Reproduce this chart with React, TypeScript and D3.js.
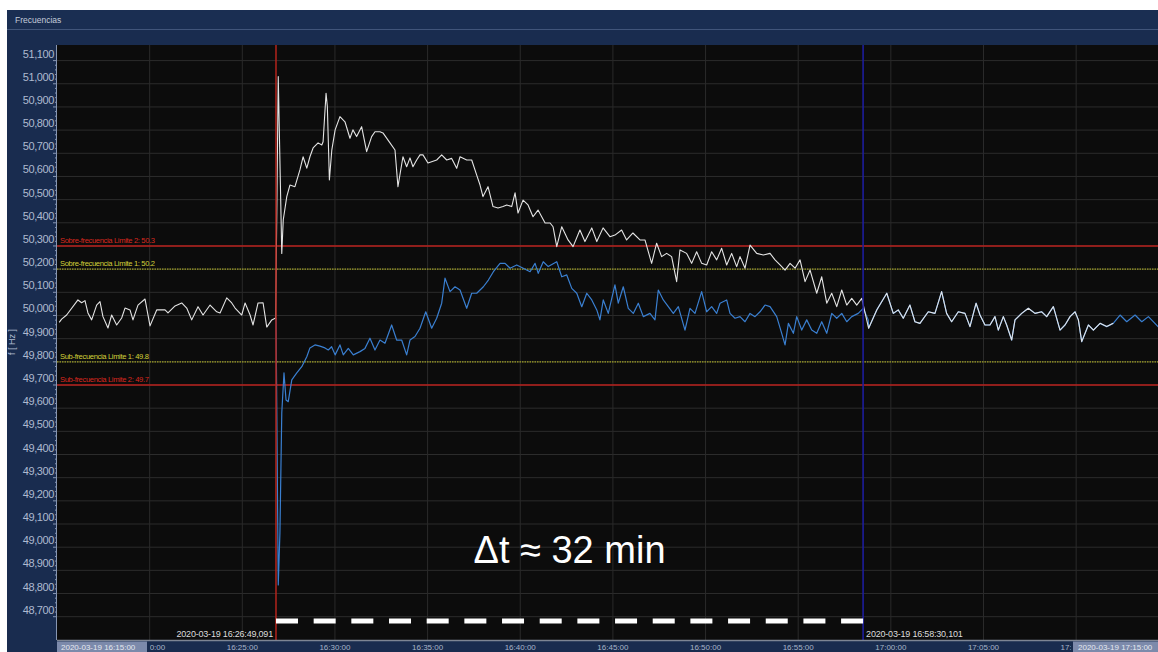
import React from "react";
import * as d3 from "d3";

const W = 1158;
const H = 652;

// Time origin of the view: 2020-03-19 16:15:00
const T0 = new Date(2020, 2, 19, 16, 15, 0);
const at = (min: number) => new Date(T0.getTime() + min * 60000);

// Frequency recorded at the first measuring point, [minutes after 16:15:00, Hz]
const seriesWhite: [number, number][] = [
  [0.12, 49.97], [0.25, 49.984], [0.52, 50.002], [1.13, 50.067], [1.33, 50.055], [1.51, 50.064],
  [1.67, 50.011], [1.87, 49.981], [2.14, 50.045], [2.32, 50.06], [2.48, 49.995], [2.75, 49.946],
  [2.95, 50.002], [3.22, 49.959], [3.49, 49.989], [3.67, 50.032], [3.94, 50.024], [4.1, 49.981],
  [4.37, 50.045], [4.75, 50.071], [5.02, 49.955], [5.38, 50.024], [5.83, 50.024], [5.99, 50.011],
  [6.37, 50.041], [6.73, 50.054], [7.0, 50.032], [7.27, 49.981], [7.61, 50.038], [7.88, 50.002],
  [8.26, 50.045], [8.62, 50.016], [8.8, 50.011], [9.16, 50.076], [9.43, 50.054], [9.61, 50.032],
  [9.97, 50.002], [10.15, 50.054], [10.42, 50.002], [10.58, 49.959], [10.85, 50.054], [11.12, 50.055],
  [11.32, 49.95], [11.59, 49.981], [11.8, 49.989],
  [11.94, 51.031], [12.13, 50.268], [12.21, 50.412], [12.4, 50.513], [12.57, 50.563], [12.84, 50.556],
  [13.11, 50.628], [13.28, 50.685], [13.48, 50.636], [13.65, 50.685], [13.82, 50.723], [14.09, 50.745],
  [14.29, 50.736], [14.36, 50.75], [14.52, 50.959], [14.59, 50.901], [14.7, 50.585], [14.83, 50.714],
  [15.01, 50.801], [15.27, 50.858], [15.54, 50.836], [15.81, 50.765], [15.97, 50.801], [16.17, 50.772],
  [16.44, 50.815], [16.71, 50.707], [16.98, 50.772], [17.16, 50.793], [17.43, 50.793], [17.59, 50.788],
  [17.97, 50.745], [18.24, 50.714], [18.4, 50.556], [18.67, 50.685], [18.87, 50.642], [19.05, 50.68],
  [19.21, 50.642], [19.41, 50.671], [19.59, 50.693], [19.75, 50.693], [20.02, 50.658], [20.49, 50.671],
  [20.76, 50.693], [21.03, 50.671], [21.3, 50.678], [21.57, 50.635], [21.75, 50.685], [22.11, 50.671],
  [22.38, 50.671], [22.65, 50.606], [22.83, 50.563], [22.99, 50.513], [23.26, 50.556], [23.53, 50.47],
  [23.8, 50.464], [24.07, 50.47], [24.27, 50.477], [24.54, 50.47], [24.72, 50.529], [24.88, 50.442],
  [25.15, 50.498], [25.42, 50.477], [25.69, 50.426], [25.96, 50.455], [26.34, 50.399], [26.61, 50.399],
  [26.77, 50.383], [26.97, 50.297], [27.24, 50.383], [27.58, 50.326], [27.85, 50.297], [28.22, 50.369],
  [28.49, 50.319], [28.86, 50.378], [29.13, 50.319], [29.47, 50.378], [29.84, 50.34], [30.11, 50.347],
  [30.47, 50.369], [30.74, 50.326], [31.08, 50.356], [31.46, 50.326], [31.73, 50.326], [32.09, 50.225],
  [32.36, 50.312], [32.63, 50.254], [32.9, 50.268], [33.17, 50.254], [33.44, 50.146], [33.62, 50.283],
  [33.98, 50.268], [34.25, 50.225], [34.52, 50.275], [34.79, 50.225], [35.06, 50.218], [35.33, 50.275],
  [35.6, 50.24], [35.87, 50.29], [36.14, 50.218], [36.41, 50.268], [36.68, 50.211], [36.86, 50.254],
  [37.13, 50.204], [37.4, 50.304], [37.76, 50.268], [38.12, 50.261], [38.48, 50.268], [38.75, 50.24],
  [39.02, 50.218], [39.29, 50.196], [39.56, 50.225], [39.83, 50.204], [40.1, 50.24], [40.37, 50.146],
  [40.64, 50.196], [41.0, 50.096], [41.27, 50.167], [41.54, 50.053], [41.81, 50.096], [42.08, 50.038],
  [42.35, 50.11], [42.62, 50.045], [42.89, 50.074], [43.16, 50.045], [43.43, 50.074], [43.8, 49.945],
  [44.24, 50.024], [44.78, 50.096], [45.13, 50.009], [45.4, 50.024], [45.67, 49.988], [46.03, 50.045],
  [46.3, 49.973], [46.57, 49.966], [47.02, 50.016], [47.38, 50.009], [47.74, 50.103], [48.01, 50.009],
  [48.28, 49.973], [48.64, 50.016], [49.0, 50.009], [49.27, 49.952], [49.6, 50.053], [49.81, 50.002],
  [50.08, 49.959], [50.35, 49.959], [50.62, 49.995], [50.8, 49.937], [51.07, 49.995], [51.25, 49.959],
  [51.52, 49.894], [51.7, 49.981], [52.06, 50.009], [52.42, 50.031], [52.78, 50.009], [53.14, 50.016],
  [53.41, 49.995], [53.77, 50.038], [54.13, 49.937], [54.4, 49.959], [54.67, 49.995], [54.94, 50.016],
  [55.12, 49.981], [55.3, 49.887], [55.66, 49.959], [55.93, 49.937], [56.29, 49.966], [56.65, 49.952],
  [57.0, 49.966],
];

// Frequency recorded at the second measuring point until it resynchronises
const seriesBlueSplit: [number, number][] = [
  [11.82, 49.989], [11.94, 48.837], [12.03, 49.061], [12.13, 49.579], [12.25, 49.752], [12.36, 49.635],
  [12.48, 49.628], [12.67, 49.722], [12.94, 49.752], [13.21, 49.779], [13.48, 49.822], [13.65, 49.86],
  [13.92, 49.873], [14.19, 49.868], [14.46, 49.86], [14.64, 49.851], [14.82, 49.865], [15.01, 49.83],
  [15.27, 49.873], [15.45, 49.83], [15.72, 49.858], [15.99, 49.83], [16.35, 49.844], [16.62, 49.858],
  [16.89, 49.902], [17.16, 49.851], [17.43, 49.894], [17.7, 49.88], [18.06, 49.959], [18.33, 49.894],
  [18.6, 49.894], [18.87, 49.83], [19.05, 49.894], [19.32, 49.909], [19.59, 49.945], [19.9, 50.016],
  [20.22, 49.945], [20.49, 49.988], [20.76, 50.053], [20.94, 50.161], [21.21, 50.103], [21.48, 50.124],
  [21.75, 50.11], [22.11, 50.031], [22.38, 50.096], [22.65, 50.096], [23.01, 50.124], [23.28, 50.153],
  [23.55, 50.189], [23.91, 50.225], [24.18, 50.225], [24.45, 50.204], [24.81, 50.218], [25.16, 50.204],
  [25.53, 50.189], [25.8, 50.225], [25.97, 50.182], [26.24, 50.232], [26.51, 50.211], [26.97, 50.232],
  [27.24, 50.167], [27.51, 50.175], [27.78, 50.117], [28.05, 50.096], [28.32, 50.038], [28.59, 50.096],
  [28.86, 50.067], [29.13, 50.024], [29.3, 49.981], [29.48, 50.067], [29.75, 50.009], [30.11, 50.132],
  [30.29, 50.053], [30.56, 50.124], [30.83, 50.031], [31.1, 50.009], [31.37, 50.053], [31.64, 49.995],
  [32.0, 50.009], [32.27, 49.981], [32.45, 50.11], [32.72, 50.067], [32.99, 50.038], [33.26, 50.009],
  [33.53, 50.038], [33.89, 49.937], [34.16, 50.031], [34.43, 50.009], [34.79, 50.103], [35.06, 50.016],
  [35.33, 50.038], [35.6, 50.009], [35.78, 50.053], [36.14, 50.067], [36.32, 50.009], [36.59, 49.988],
  [36.86, 49.995], [37.13, 49.973], [37.4, 50.009], [37.67, 49.995], [37.94, 50.016], [38.21, 50.045],
  [38.48, 50.038], [38.84, 49.995], [39.11, 49.923], [39.29, 49.873], [39.47, 49.966], [39.74, 49.923],
  [39.92, 49.995], [40.19, 49.937], [40.46, 49.981], [40.73, 49.937], [41.0, 49.923], [41.27, 49.973],
  [41.54, 49.923], [41.81, 50.009], [42.08, 49.988], [42.35, 50.009], [42.62, 49.973], [42.89, 49.995],
  [43.24, 50.009], [43.51, 50.031], [43.78, 49.981],
];

// Readings of the second point after the first one stops reporting
const seriesBlueEnd: [number, number][] = [
  [57.37, 50.002], [57.73, 49.973], [58.18, 50.002], [58.54, 49.973], [58.9, 49.995], [59.42, 49.952],
  [59.8, 49.975],
];

// After resynchronisation both points read the same value
const seriesBlue: [number, number][] = [
  ...seriesBlueSplit,
  ...seriesWhite.filter((d) => d[0] >= 43.8),
  ...seriesBlueEnd,
];

const yTicks = [
  48.7, 48.8, 48.9, 49.0, 49.1, 49.2, 49.3, 49.4, 49.5, 49.6, 49.7, 49.8, 49.9,
  50.0, 50.1, 50.2, 50.3, 50.4, 50.5, 50.6, 50.7, 50.8, 50.9, 51.0, 51.1,
];
const xTickMinutes = [5, 10, 15, 20, 25, 30, 35, 40, 45, 50, 55];
const xTickLabels = [
  "16:20:00", "16:25:00", "16:30:00", "16:35:00", "16:40:00", "16:45:00",
  "16:50:00", "16:55:00", "17:00:00", "17:05:00", "17:10:00",
];

const limitValues = [50.3, 50.2, 49.8, 49.7];
const limitLevels = [2, 1, 1, 2];
const limitLabels = [
  "Sobre-frecuencia Limite 2: 50.3",
  "Sobre-frecuencia Limite 1: 50.2",
  "Sub-frecuencia Limite 1: 49.8",
  "Sub-frecuencia Limite 2: 49.7",
];

// Cursor times (minutes after 16:15:00) and their labels
const cursorStart = 11 + 49.091 / 60;
const cursorEnd = 43 + 30.101 / 60;
const cursorStartLabel = "2020-03-19 16:26:49,091";
const cursorEndLabel = "2020-03-19 16:58:30,101";
const rangeStartLabel = "2020-03-19 16:15:00";
const rangeEndLabel = "2020-03-19 17:15:00";
const deltaLabel = "Δt ≈ 32 min";
const title = "Frecuencias";
const yAxisTitle = "f [ Hz ]";

export default function App() {
  const plotLeft = 57;
  const plotTop = 45;
  const plotBottom = 640;
  const x = d3
    .scaleTime()
    .domain([T0, at(60)])
    .range([plotLeft, plotLeft + 60 * 18.53]);
  const y = d3.scaleLinear().domain([48.7, 51.1]).range([616.7, 60.6]);

  const line = d3
    .line<[number, number]>()
    .x((d) => x(at(d[0])))
    .y((d) => y(d[1]));

  const locale = d3.formatLocale({
    decimal: ",",
    thousands: ".",
    grouping: [3],
    currency: ["", ""],
  });
  const fmt = locale.format(".3f");

  const minorTicks = d3.range(0, 121).map((i) => 48.7 + i * 0.02);

  const xs = x(at(cursorStart));
  const xe = x(at(cursorEnd));
  const dashY = 621;
  const nDash = 16;
  const dashLen = 22;
  const gap = (xe - xs - nDash * dashLen) / (nDash - 1);

  const navy = "#192c4f";
  const axisText = "#aebad0";
  const boxLeftEnd = plotLeft + 90;
  const boxRightStart = 1073;

  return (
    <svg
      width={W}
      height={H}
      style={{ position: "absolute", left: 0, top: 0, display: "block" }}
      fontFamily="'Liberation Sans', Arial, sans-serif"
    >
      <defs>
        <clipPath id="plotClip">
          <rect x={plotLeft} y={plotTop} width={W - plotLeft} height={plotBottom - plotTop} />
        </clipPath>
        <clipPath id="timeTickClip">
          <rect x={boxLeftEnd + 3} y={plotBottom} width={boxRightStart - boxLeftEnd - 5} height={H - plotBottom} />
        </clipPath>
      </defs>
      <rect x={0} y={0} width={W} height={H} fill="#ffffff" />
      {/* header */}
      <rect x={7} y={10} width={W - 7} height={H - 10} fill={navy} />
      <rect x={7} y={10} width={W - 7} height={19} fill="#1a2e52" />
      <line x1={7} x2={W} y1={29.5} y2={29.5} stroke="#41557a" strokeWidth={1} />
      <text x={15} y={23} fontSize={8.5} fill="#c4ccda">
        {title}
      </text>

      {/* plot area */}
      <rect x={plotLeft} y={plotTop} width={W - plotLeft} height={plotBottom - plotTop} fill="#0c0c0c" />
      <g>
        {yTicks.map((v) => (
          <line key={"gy" + v} x1={plotLeft} x2={W} y1={y(v)} y2={y(v)} stroke="#2c2c2c" strokeWidth={1} />
        ))}
        {xTickMinutes.map((m) => (
          <line key={"gx" + m} x1={x(at(m))} x2={x(at(m))} y1={plotTop} y2={plotBottom} stroke="#2a2a2a" strokeWidth={1} />
        ))}
      </g>

      {/* frequency limits */}
      {limitValues.map((v, i) => {
        const red = limitLevels[i] === 2;
        return (
          <g key={"lim" + i}>
            <line
              x1={plotLeft}
              x2={W}
              y1={y(v)}
              y2={y(v)}
              stroke={red ? "#b8211c" : "#a3a325"}
              strokeWidth={red ? 1.4 : 1.2}
              strokeDasharray={red ? undefined : "1.5 1"}
            />
            <text
              x={60}
              y={y(v) - 3}
              fontSize={7.6}
              letterSpacing={-0.35}
              fill={red ? "#d8281f" : "#d2d23a"}
            >
              {limitLabels[i]}
            </text>
          </g>
        );
      })}

      {/* traces */}
      <g clipPath="url(#plotClip)" fill="none" strokeLinejoin="round">
        <path d={line(seriesBlue) || ""} stroke="#3a7fd0" strokeWidth={1.2} />
        <path d={line(seriesWhite) || ""} stroke="#e4e4e4" strokeWidth={1.1} />
      </g>

      {/* cursors */}
      <line x1={xs} x2={xs} y1={plotTop} y2={plotBottom} stroke="#b3241c" strokeWidth={1.5} />
      <line x1={xe} x2={xe} y1={plotTop} y2={plotBottom} stroke="#1d1d9c" strokeWidth={1.6} />
      <text x={xs - 3} y={637} fontSize={9} fill="#dcdcdc" textAnchor="end" letterSpacing={-0.2}>
        {cursorStartLabel}
      </text>
      <text x={xe + 3} y={637} fontSize={9} fill="#dcdcdc" letterSpacing={-0.2}>
        {cursorEndLabel}
      </text>

      {/* measured interval */}
      <line
        x1={xs}
        x2={xe}
        y1={dashY}
        y2={dashY}
        stroke="#ffffff"
        strokeWidth={5}
        strokeDasharray={`${dashLen} ${gap}`}
      />
      <text x={(xs + xe) / 2} y={563} fontSize={38} fill="#ffffff" textAnchor="middle">
        {deltaLabel}
      </text>

      {/* y axis */}
      <line x1={plotLeft - 0.5} x2={plotLeft - 0.5} y1={plotTop} y2={plotBottom} stroke="#8796b2" strokeWidth={1} />
      {minorTicks.map((v, i) => (
        <line
          key={"mt" + i}
          x1={plotLeft - (i % 5 === 0 ? 4 : 2)}
          x2={plotLeft}
          y1={y(v)}
          y2={y(v)}
          stroke="#8796b2"
          strokeWidth={1}
        />
      ))}
      {yTicks.map((v) => (
        <text key={"ly" + v} x={54} y={y(v) - 3} fontSize={11} fill={axisText} textAnchor="end" letterSpacing={-0.4}>
          {fmt(v)}
        </text>
      ))}
      <text
        transform={`translate(15,342) rotate(-90)`}
        fontSize={9}
        fill={axisText}
        textAnchor="middle"
      >
        {yAxisTitle}
      </text>

      {/* x axis */}
      <rect x={7} y={plotBottom} width={W - 7} height={H - plotBottom} fill={navy} />
      <line x1={plotLeft} x2={W} y1={plotBottom + 0.5} y2={plotBottom + 0.5} stroke="#7d8594" strokeWidth={1.5} />
      <g clipPath="url(#timeTickClip)">
        {xTickMinutes.map((m, i) => (
          <text key={"lx" + m} x={x(at(m))} y={650} fontSize={8} fill="#a8b4c8" textAnchor="middle">
            {xTickLabels[i]}
          </text>
        ))}
      </g>
      <rect x={plotLeft} y={641.5} width={boxLeftEnd - plotLeft} height={H - 641.5} fill="#7c8aab" />
      <text x={plotLeft + 4} y={650} fontSize={8} fill="#e4e8f0">
        {rangeStartLabel}
      </text>
      <rect x={boxRightStart} y={641.5} width={W - boxRightStart} height={H - 641.5} fill="#7c8aab" />
      <text x={boxRightStart + 5} y={650} fontSize={8} fill="#e4e8f0">
        {rangeEndLabel}
      </text>
    </svg>
  );
}
